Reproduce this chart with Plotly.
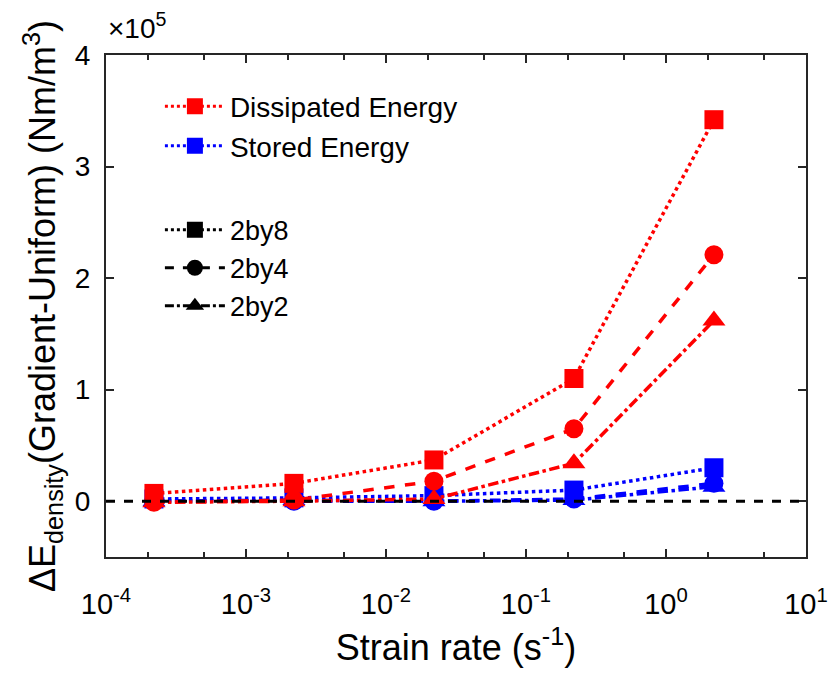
import plotly.graph_objects as go

strain_rate = [2.2e-4, 2.2e-3, 2.2e-2, 2.2e-1, 2.2]

diss_2by8 = [0.07e5, 0.16e5, 0.37e5, 1.10e5, 3.42e5]
diss_2by4 = [-0.01e5, 0.01e5, 0.18e5, 0.65e5, 2.21e5]
diss_2by2 = [-0.01e5, 0.00e5, 0.02e5, 0.34e5, 1.62e5]

stor_2by8 = [0.02e5, 0.03e5, 0.05e5, 0.10e5, 0.30e5]
stor_2by4 = [0.00e5, 0.00e5, 0.00e5, 0.02e5, 0.16e5]
stor_2by2 = [0.00e5, 0.01e5, 0.00e5, 0.01e5, 0.13e5]

x_tickvals = [1e-4, 1e-3, 1e-2, 1e-1, 1e0, 1e1]
x_ticktext = ["10<sup>-4</sup>", "10<sup>-3</sup>", "10<sup>-2</sup>",
              "10<sup>-1</sup>", "10<sup>0</sup>", "10<sup>1</sup>"]
y_tickvals = [0, 1e5, 2e5, 3e5, 4e5]
y_ticktext = ["0", "1", "2", "3", "4"]

RED = "#ff0000"
BLUE = "#0000ff"
FONT = "Liberation Sans, Arial, sans-serif"
AX = "#262626"

fig = go.Figure()

styles = [("dot", "square", 19), ("dash", "circle", 19), ("dashdot", "triangle-up", 20)]
series = [(diss_2by8, diss_2by4, diss_2by2, RED), (stor_2by8, stor_2by4, stor_2by2, BLUE)]

for vals3 in series[::-1]:
    color = vals3[3]
    for vals, (dash, sym, ms) in zip(vals3[:3], styles):
        fig.add_trace(go.Scatter(
            x=strain_rate, y=vals, mode="lines+markers",
            line=dict(color=color, width=3.5, dash=dash),
            marker=dict(symbol=sym, size=ms, color=color),
            showlegend=False))

# legend entries (group 1: energy type)
fig.add_trace(go.Scatter(x=[None], y=[None], mode="lines+markers", name="Dissipated Energy",
                         line=dict(color=RED, width=3, dash="dot"),
                         marker=dict(symbol="square", size=18, color=RED), legend="legend"))
fig.add_trace(go.Scatter(x=[None], y=[None], mode="lines+markers", name="Stored Energy",
                         line=dict(color=BLUE, width=3, dash="dot"),
                         marker=dict(symbol="square", size=18, color=BLUE), legend="legend"))
# legend entries (group 2: geometry)
for name, (dash, sym, ms) in zip(["2by8", "2by4", "2by2"], styles):
    fig.add_trace(go.Scatter(x=[None], y=[None], mode="lines+markers", name=name,
                             line=dict(color="black", width=3, dash=dash),
                             marker=dict(symbol=sym, size=ms - 1, color="black"), legend="legend2"))

fig.add_hline(y=0, line=dict(color="black", width=3, dash="dash"), layer="above")

fig.update_layout(
    width=830, height=675,
    margin=dict(l=106, r=24, t=55, b=118),
    paper_bgcolor="white", plot_bgcolor="white",
    font=dict(family=FONT, size=28, color="black"),
    xaxis=dict(type="log", range=[-4, 1], tickvals=x_tickvals, ticktext=x_ticktext,
               showgrid=False, zeroline=False, showline=True, linecolor=AX, linewidth=2,
               mirror="ticks", ticks="inside", ticklen=8, tickcolor=AX, tickwidth=1.5,
               tickfont=dict(size=29), ticklabelstandoff=20, automargin=False,
               minor=dict(ticks="inside", ticklen=5, tickcolor=AX, showgrid=False),
               title=dict(text="Strain rate (s<sup>-1</sup>)", font=dict(size=36), standoff=16)),
    yaxis=dict(range=[-0.5e5, 4e5], tickvals=y_tickvals, ticktext=y_ticktext,
               showgrid=False, zeroline=False, showline=True, linecolor=AX, linewidth=2,
               mirror="ticks", ticks="inside", ticklen=8, tickcolor=AX, tickwidth=1.5,
               tickfont=dict(size=28), ticklabelstandoff=8, automargin=False,
               title=dict(text="ΔE<sub>density</sub>(Gradient-Uniform) (Nm/m<sup>3</sup>)",
                          font=dict(size=36), standoff=8)),
    legend=dict(x=0.077, y=0.947, xanchor="left", yanchor="top", bgcolor="rgba(0,0,0,0)",
                font=dict(size=28), itemwidth=60, tracegroupgap=0),
    legend2=dict(x=0.077, y=0.70, xanchor="left", yanchor="top", bgcolor="rgba(0,0,0,0)",
                 font=dict(size=27), itemwidth=60, tracegroupgap=0),
)

fig.add_annotation(text="×10<sup>5</sup>", xref="paper", yref="paper", x=0.0, y=1.0,
                   xanchor="left", yanchor="bottom", showarrow=False, yshift=9,
                   font=dict(size=28, family=FONT, color="black"))

fig.write_html("out.html")
